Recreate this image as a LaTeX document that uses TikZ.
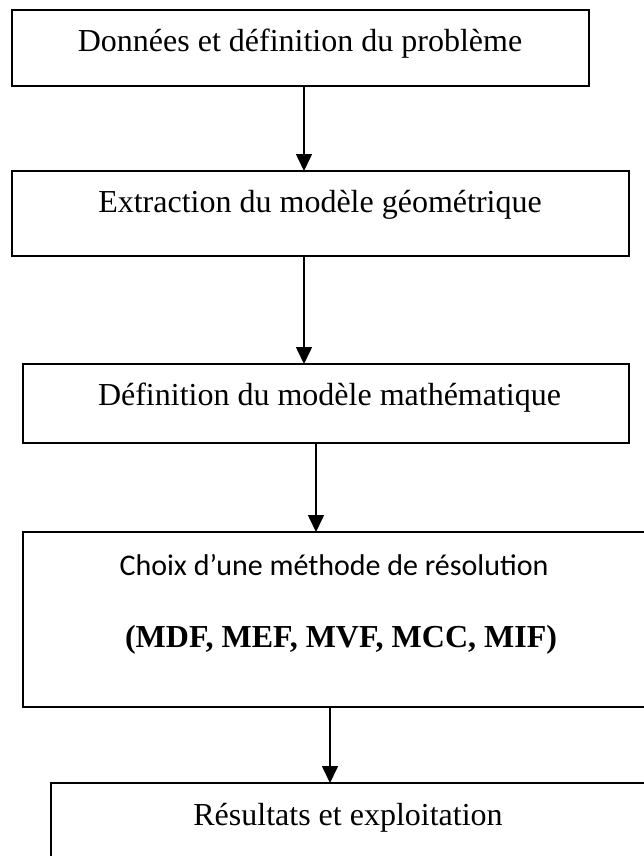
\documentclass[tikz,border=0pt]{standalone}
\usepackage{fontspec}
\setmainfont{Liberation Serif}
\newfontfamily\carlito{Carlito}
\usetikzlibrary{arrows.meta}
\begin{document}
\begin{tikzpicture}[x=1pt,y=-1pt,
  stage/.style={draw=black, line width=1.6pt, rectangle, inner sep=0pt, outer sep=0pt},
  boxtext/.style={anchor=base, inner sep=0pt, font=\fontsize{32}{38}\selectfont},
  flow/.style={line width=1.6pt, -{Triangle[length=17pt,width=16pt]}}]
\useasboundingbox (0,0) rectangle (644,856);
\clip (0,0) rectangle (644,856);
% process boxes
\node[stage, minimum width=577pt, minimum height=76pt]  (b1) at (300.5,48)    {};
\node[stage, minimum width=617pt, minimum height=85pt]  (b2) at (320.5,213.5) {};
\node[stage, minimum width=606pt, minimum height=79pt]  (b3) at (326,403.5)   {};
\node[stage, minimum width=623pt, minimum height=175pt] (b4) at (334.5,619.5) {};
\node[stage, minimum width=595pt, minimum height=87pt]  (b5) at (348.5,826.5) {};
% box texts
\node[boxtext] (t1) at (300,52)  {Données et définition du problème};
\node[boxtext] (t2) at (320,212) {Extraction du modèle géométrique};
\node[boxtext] (t3) at (329.5,405) {Définition du modèle mathématique};
\node[boxtext, font=\carlito\fontsize{30}{36}\selectfont] (t4a) at (334,575) {Choix d’une méthode de résolution};
\node[boxtext, font=\bfseries\fontsize{32}{38}\selectfont] (t4b) at (341,647) {(MDF, MEF, MVF, MCC, MIF)};
\node[boxtext] (t5) at (348,825) {Résultats et exploitation};
% connectors
\draw[flow] (b1.south -| 304,0) -- (b2.north -| 304,0);
\draw[flow] (b2.south -| 304,0) -- (b3.north -| 304,0);
\draw[flow] (b3.south -| 316,0) -- (b4.north -| 316,0);
\draw[flow] (b4.south -| 330,0) -- (b5.north -| 330,0);
\end{tikzpicture}
\end{document}
